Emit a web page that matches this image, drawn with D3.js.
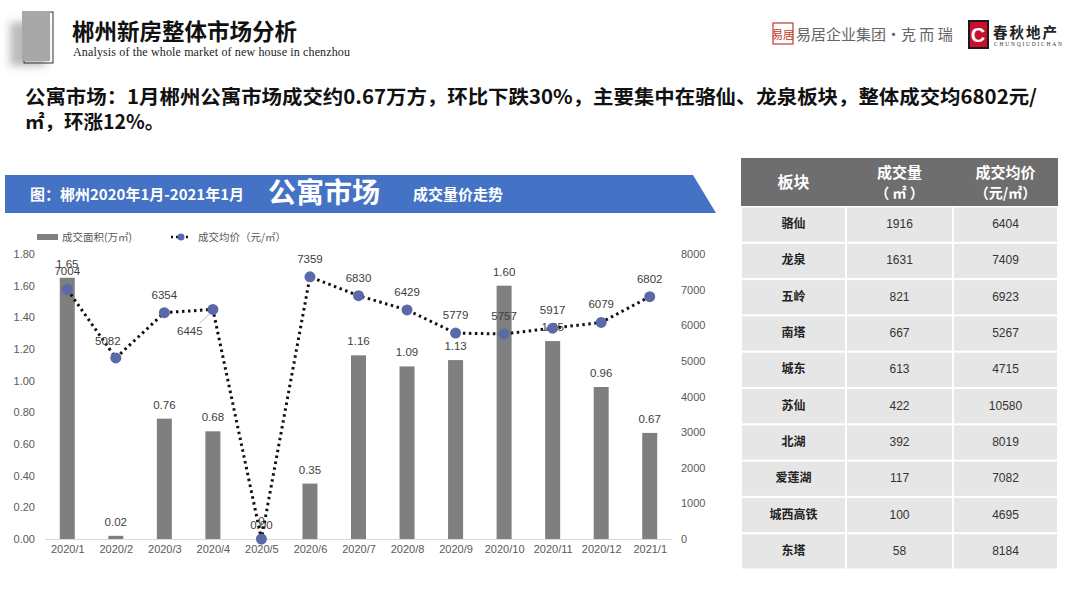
<!DOCTYPE html>
<html><head><meta charset="utf-8">
<script src="https://cdn.jsdelivr.net/npm/d3@7"></script>
<style>
html,body{margin:0;padding:0;background:#fff;}
svg{display:block;font-family:"Noto Sans CJK SC","Noto Sans",sans-serif;}
</style></head>
<body><svg id="c" width="1080" height="608"></svg>
<script>
// ---- data ----
const months = ["2020/1","2020/2","2020/3","2020/4","2020/5","2020/6","2020/7","2020/8","2020/9","2020/10","2020/11","2020/12","2021/1"];
const area = [1.65,0.02,0.76,0.68,0.00,0.35,1.16,1.09,1.13,1.60,1.25,0.96,0.67];
const price = [7004,5082,6354,6445,0,7359,6830,6429,5779,5757,5917,6079,6802];
const leftTicks = [0,0.2,0.4,0.6,0.8,1.0,1.2,1.4,1.6,1.8];
const rightTicks = [0,1000,2000,3000,4000,5000,6000,7000,8000];
const districts = ["骆仙","龙泉","五岭","南塔","城东","苏仙","北湖","爱莲湖","城西高铁","东塔"];
const districtVolume = [1916,1631,821,667,613,422,392,117,100,58];
const districtPrice = [6404,7409,6923,5267,4715,10580,8019,7082,4695,8184];
const tableHeaders = [["板块"],["成交量","（ ㎡ ）"],["成交均价","（元/㎡）"]];

const svg = d3.select("#c");

// ---- page header ----
const defs = svg.append("defs");
const f = defs.append("filter").attr("id","blur").attr("x","-50%").attr("y","-50%").attr("width","200%").attr("height","200%");
f.append("feGaussianBlur").attr("stdDeviation",4);
svg.append("rect").attr("x",10).attr("y",22).attr("width",36).attr("height",44).attr("fill","#bbb").attr("filter","url(#blur)");
svg.append("rect").attr("x",24).attr("y",12).attr("width",29).attr("height",51).attr("fill","none").attr("stroke","#333").attr("stroke-width",1);
svg.append("rect").attr("x",22).attr("y",11).attr("width",28).attr("height",50).attr("fill","#a8a8a8");
svg.append("text").attr("x",72).attr("y",40).attr("font-size",22.5).attr("font-weight","bold").attr("fill","#111").text("郴州新房整体市场分析");
svg.append("text").attr("x",73).attr("y",56).attr("font-size",12).attr("font-family","'Liberation Serif',serif").attr("fill","#222").attr("textLength",277).text("Analysis of the whole market of new house in chenzhou");

// logos
svg.append("rect").attr("x",773).attr("y",23).attr("width",20).attr("height",21).attr("fill","#fff").attr("stroke","#c0392b").attr("stroke-width",1.2);
svg.append("text").attr("x",783).attr("y",39).attr("text-anchor","middle").attr("font-size",11).attr("fill","#c0392b").text("易居");
svg.append("text").attr("x",796).attr("y",40).attr("font-size",15).attr("fill","#666").text("易居企业集团•克 而 瑞");
svg.append("rect").attr("x",968).attr("y",20).attr("width",21).attr("height",29).attr("fill","#1a1a1a");
svg.append("rect").attr("x",970).attr("y",22).attr("width",17).attr("height",25).attr("fill","#c8102e");
svg.append("text").attr("x",978).attr("y",42).attr("text-anchor","middle").attr("font-size",20).attr("font-weight","bold").attr("fill","#fff").attr("font-family","'Liberation Sans',sans-serif").text("C");
svg.append("text").attr("x",993).attr("y",38).attr("font-size",14.5).attr("font-weight","bold").attr("fill","#222").attr("letter-spacing",2).text("春秋地产");
svg.append("text").attr("x",994).attr("y",46).attr("font-size",5.5).attr("fill","#333").attr("font-family","'Liberation Serif',serif").attr("textLength",68).text("CHUNQIUDICHAN");

// headline
svg.append("text").attr("x",25).attr("y",104).attr("font-size",19.5).attr("font-weight","bold").attr("fill","#111").attr("textLength",1012).attr("lengthAdjust","spacingAndGlyphs").text("公寓市场：1月郴州公寓市场成交约0.67万方，环比下跌30%，主要集中在骆仙、龙泉板块，整体成交均6802元/");
svg.append("text").attr("x",25).attr("y",129).attr("font-size",19.5).attr("font-weight","bold").attr("fill","#111").text("㎡，环涨12%。");

// banner
svg.append("path").attr("d","M5,175 L693,175 L716,213 L5,213 Z").attr("fill","#4472c4");
svg.append("text").attr("x",30).attr("y",200).attr("font-size",15).attr("font-weight","bold").attr("fill","#fff").text("图：郴州2020年1月-2021年1月");
svg.append("text").attr("x",268).attr("y",203).attr("font-size",28).attr("font-weight","bold").attr("fill","#fff").text("公寓市场");
svg.append("text").attr("x",413).attr("y",200).attr("font-size",15).attr("font-weight","bold").attr("fill","#fff").text("成交量价走势");

// ---- chart ----
const x = d3.scalePoint().domain(months).range([43,674]).padding(0.5);
const yL = d3.scaleLinear().domain([0,1.8]).range([539,254]);
const yR = d3.scaleLinear().domain([0,8000]).range([539,254]);
const barW = 15;
const g = svg.append("g");

// legend
g.append("rect").attr("x",37).attr("y",234).attr("width",21).attr("height",6).attr("fill","#7f7f7f");
g.append("text").attr("x",62).attr("y",241).attr("font-size",10.5).attr("fill","#595959").text("成交面积(万㎡)");
g.append("line").attr("x1",171).attr("x2",190).attr("y1",237).attr("y2",237).attr("stroke","#111").attr("stroke-width",2.5).attr("stroke-dasharray","2,3");
g.append("circle").attr("cx",181).attr("cy",237).attr("r",3.5).attr("fill","#5a6aa8");
g.append("text").attr("x",198).attr("y",241).attr("font-size",10.5).attr("fill","#595959").text("成交均价（元/㎡）");

// axes
const axL = g.append("g").attr("transform","translate(40,0)").call(d3.axisLeft(yL).tickValues(leftTicks).tickFormat(d3.format(".2f")).tickSize(0));
axL.select(".domain").remove();
axL.selectAll("text").attr("font-size",11).attr("fill","#595959").attr("dx",-2).attr("font-family","'Liberation Sans',sans-serif");
const axR = g.append("g").attr("transform","translate(676,0)").call(d3.axisRight(yR).tickValues(rightTicks).tickFormat(d3.format("d")).tickSize(0));
axR.select(".domain").remove();
axR.selectAll("text").attr("font-size",11).attr("fill","#595959").attr("dx",2).attr("font-family","'Liberation Sans',sans-serif");
const axB = g.append("g").attr("transform","translate(0,539)").call(d3.axisBottom(x).tickSize(0));
axB.select(".domain").attr("stroke","#d9d9d9").attr("d","M45,0.5H672");
axB.selectAll("text").attr("font-size",11).attr("fill","#595959").attr("dy",11).attr("font-family","'Liberation Sans',sans-serif");

// bars
g.selectAll(".bar").data(area).enter().append("rect")
  .attr("x",(d,i)=>x(months[i])-barW/2).attr("width",barW)
  .attr("y",d=>yL(d)).attr("height",d=>539-yL(d)).attr("fill","#7f7f7f");
g.selectAll(".bl").data(area).enter().append("text")
  .attr("x",(d,i)=>x(months[i])).attr("y",d=>yL(d)-10)
  .attr("text-anchor","middle").attr("font-size",11.5).attr("fill","#404040").attr("font-family","'Liberation Sans',sans-serif")
  .text(d=>d3.format(".2f")(d));

// line
const line = d3.line().x((d,i)=>x(months[i])).y(d=>yR(d));
g.append("path").datum(price).attr("d",line).attr("fill","none").attr("stroke","#111").attr("stroke-width",3).attr("stroke-dasharray","2.5,3.5");
g.selectAll(".pt").data(price).enter().append("circle")
  .attr("cx",(d,i)=>x(months[i])).attr("cy",d=>yR(d)).attr("r",5.5).attr("fill","#5a6aa8");

// line labels
const special = {"2020/2":[-8,-13],"2020/4":[-23,26]};
price.forEach((d,i)=>{
  const m = months[i];
  const off = special[m] || [0,-14];
  g.append("text").attr("x",x(m)+off[0]).attr("y",yR(d)+off[1])
    .attr("text-anchor","middle").attr("font-size",11.5).attr("fill","#404040").attr("font-family","'Liberation Sans',sans-serif").text(d);
  if(m==="2020/4"){
    g.append("line").attr("x1",x(m)-13).attr("y1",yR(d)+14).attr("x2",x(m)-3).attr("y2",yR(d)+4).attr("stroke","#a6a6a6").attr("stroke-width",0.8);
  }
});

// ---- table ----
const tx = [741,846,953,1058];
const headTop = 158, headBot = 206, rowH = 36.3;
const tg = svg.append("g");
tg.append("rect").attr("x",tx[0]).attr("y",headTop).attr("width",tx[3]-tx[0]).attr("height",headBot-headTop).attr("fill","#6e6e6e");
tableHeaders.forEach((h,c)=>{
  const cx=(tx[c]+tx[c+1])/2;
  if(h.length===1){
    tg.append("text").attr("x",cx).attr("y",188).attr("text-anchor","middle").attr("font-size",16).attr("font-weight","bold").attr("fill","#fff").text(h[0]);
  } else {
    tg.append("text").attr("x",cx).attr("y",178).attr("text-anchor","middle").attr("font-size",15).attr("font-weight","bold").attr("fill","#fff").text(h[0]);
    tg.append("text").attr("x",cx).attr("y",198).attr("text-anchor","middle").attr("font-size",14).attr("font-weight","bold").attr("fill","#fff").text(h[1]);
  }
});
districts.forEach((dname,r)=>{
  const y0 = headBot + r*rowH;
  [0,1,2].forEach(c=>{
    tg.append("rect").attr("x",tx[c]+1).attr("y",y0+1.5).attr("width",tx[c+1]-tx[c]-2).attr("height",rowH-2).attr("fill","#e6e6e6");
  });
  const cy = y0 + rowH/2 + 4;
  tg.append("text").attr("x",(tx[0]+tx[1])/2).attr("y",cy).attr("text-anchor","middle").attr("font-size",12).attr("font-weight","bold").attr("fill","#222").text(dname);
  tg.append("text").attr("x",(tx[1]+tx[2])/2).attr("y",cy).attr("text-anchor","middle").attr("font-size",12).attr("fill","#333").attr("font-family","'Liberation Sans',sans-serif").text(districtVolume[r]);
  tg.append("text").attr("x",(tx[2]+tx[3])/2).attr("y",cy).attr("text-anchor","middle").attr("font-size",12).attr("fill","#333").attr("font-family","'Liberation Sans',sans-serif").text(districtPrice[r]);
});
</script></body></html>
